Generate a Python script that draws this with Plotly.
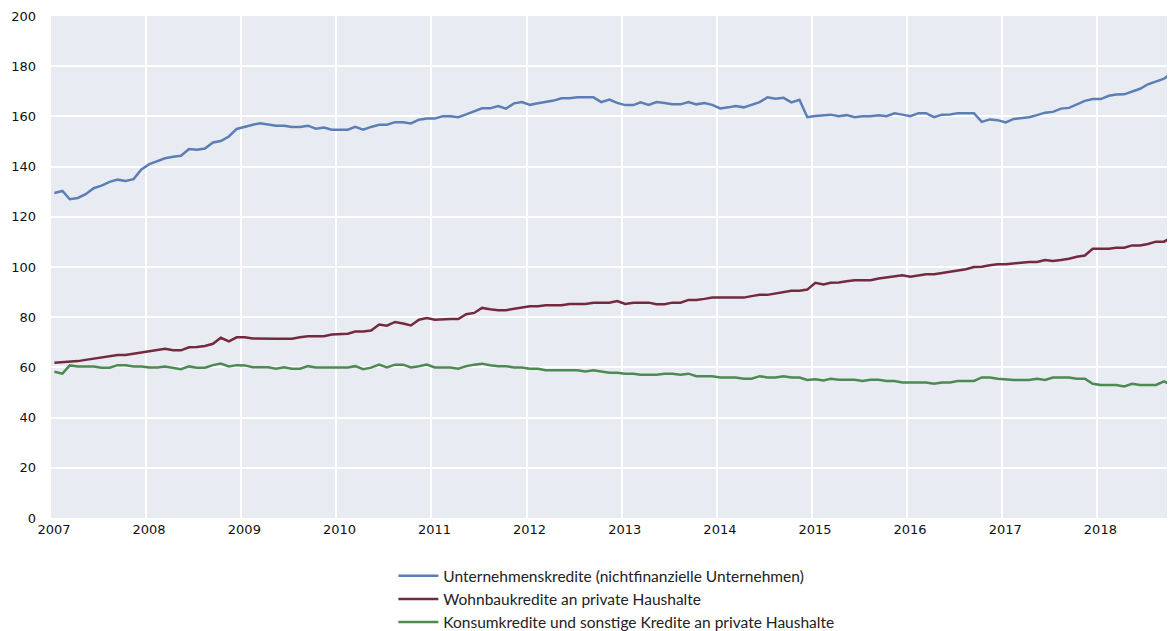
import pandas as pd
import plotly.graph_objects as go

# Monthly observations, Jan 2007 - Oct 2018
start_month = "2007-01"
n_months = 142

unternehmen = [
    129.5, 130.3, 127.0, 127.5, 129.0, 131.4, 132.4, 133.9, 134.8, 134.3, 135.0, 138.9,
    141.0, 142.3, 143.3, 143.9, 144.3, 147.0, 146.7, 147.2, 149.6, 150.2, 152.0, 155.0,
    156.0, 156.7, 157.3, 156.9, 156.3, 156.3, 155.8, 155.8, 156.3, 155.1, 155.6, 154.7,
    154.7, 154.7, 155.8, 154.7, 155.8, 156.7, 156.7, 157.7, 157.7, 157.2, 158.7, 159.2,
    159.2, 160.1, 160.1, 159.7, 160.8, 161.9, 163.2, 163.2, 164.1, 163.1, 165.2, 165.7,
    164.6, 165.2, 165.7, 166.3, 167.2, 167.2, 167.6, 167.6, 167.6, 165.7, 166.7, 165.4,
    164.5, 164.5, 165.6, 164.6, 165.7, 165.3, 164.8, 164.8, 165.7, 164.8, 165.3, 164.6,
    163.2, 163.6, 164.1, 163.6, 164.6, 165.7, 167.6, 167.0, 167.4, 165.6, 166.6, 159.7,
    160.2, 160.5, 160.7, 160.1, 160.5, 159.7, 160.1, 160.1, 160.5, 160.1, 161.2, 160.7,
    160.1, 161.3, 161.3, 159.7, 160.7, 160.8, 161.3, 161.3, 161.3, 157.8, 158.8, 158.5,
    157.6, 159.0, 159.2, 159.7, 160.5, 161.5, 161.8, 163.1, 163.4, 164.7, 166.2, 166.9,
    166.9, 168.2, 168.7, 168.8, 170.0, 171.0, 172.8, 174.0, 175.0, 177.5,
]

wohnbau = [
    61.9, 62.1, 62.4, 62.5, 63.0, 63.5, 64.0, 64.5, 64.9, 64.9, 65.4, 66.0,
    66.6, 67.0, 67.4, 66.8, 66.8, 68.0, 68.1, 68.5, 69.4, 71.8, 70.4, 72.0,
    72.0, 71.5, 71.4, 71.4, 71.4, 71.4, 71.4, 72.0, 72.4, 72.4, 72.4, 73.1,
    73.4, 73.4, 74.3, 74.3, 74.7, 77.1, 76.6, 78.1, 77.5, 76.7, 79.0, 79.7,
    79.0, 79.3, 79.3, 79.3, 81.2, 81.7, 83.7, 83.2, 82.8, 82.8, 83.3, 83.9,
    84.4, 84.4, 84.8, 84.8, 84.8, 85.3, 85.3, 85.3, 85.8, 85.8, 85.8, 86.4,
    85.3, 85.8, 85.8, 85.8, 85.2, 85.2, 85.8, 85.8, 86.9, 86.9, 87.3, 87.8,
    87.8, 87.8, 87.8, 87.8, 88.4, 88.9, 88.9, 89.4, 90.0, 90.5, 90.5, 91.0,
    93.7, 93.0, 93.7, 93.8, 94.3, 94.7, 94.7, 94.7, 95.4, 95.8, 96.3, 96.7,
    96.1, 96.7, 97.1, 97.1, 97.6, 98.1, 98.5, 99.1, 100.0, 100.1, 100.7, 101.1,
    101.1, 101.3, 101.7, 102.0, 102.0, 102.8, 102.4, 102.8, 103.3, 104.1, 104.6, 107.3,
    107.3, 107.3, 107.7, 107.7, 108.6, 108.6, 109.2, 110.1, 110.1, 111.8,
]

konsum = [
    58.3, 57.5, 60.8, 60.4, 60.4, 60.4, 59.9, 59.9, 60.9, 60.9, 60.4, 60.4,
    60.0, 60.0, 60.4, 59.9, 59.3, 60.4, 59.9, 59.9, 60.9, 61.5, 60.4, 60.9,
    60.8, 60.1, 60.1, 60.1, 59.5, 60.1, 59.5, 59.5, 60.5, 60.0, 60.0, 60.0,
    60.0, 60.0, 60.5, 59.3, 59.9, 61.1, 60.0, 61.1, 61.1, 60.0, 60.5, 61.1,
    60.0, 60.0, 60.0, 59.5, 60.5, 61.1, 61.5, 60.9, 60.5, 60.5, 60.0, 60.0,
    59.5, 59.5, 58.9, 58.9, 58.9, 58.9, 58.9, 58.4, 58.9, 58.4, 57.9, 57.9,
    57.5, 57.5, 57.1, 57.1, 57.1, 57.5, 57.5, 57.1, 57.5, 56.5, 56.5, 56.5,
    56.0, 56.0, 56.0, 55.5, 55.5, 56.5, 56.0, 56.0, 56.5, 56.0, 56.0, 55.0,
    55.3, 54.8, 55.5, 55.1, 55.1, 55.1, 54.6, 55.1, 55.1, 54.6, 54.6, 54.0,
    54.0, 54.0, 54.0, 53.5, 54.0, 54.0, 54.6, 54.6, 54.6, 56.0, 56.0, 55.5,
    55.2, 55.0, 55.0, 55.0, 55.5, 55.0, 56.0, 56.0, 56.0, 55.5, 55.5, 53.5,
    53.0, 53.0, 53.0, 52.4, 53.5, 53.0, 53.0, 53.0, 54.4, 53.0,
]

names = [
    "Unternehmenskredite (nichtfinanzielle Unternehmen)",
    "Wohnbaukredite an private Haushalte",
    "Konsumkredite und sonstige Kredite an private Haushalte",
]
colors = ["#5b7fb5", "#74293f", "#4c8a52"]

dates = pd.date_range(start_month, periods=n_months, freq="MS") + pd.Timedelta(days=13)

fig = go.Figure()
for vals, name, col in zip([unternehmen, wohnbau, konsum], names, colors):
    fig.add_trace(go.Scatter(x=dates, y=vals, mode="lines", name=name,
                             line=dict(color=col, width=2.5)))

# the page has an 8px body margin, so the figure is sized to fit the window
fig.update_layout(
    width=1167, height=623,
    margin=dict(l=43, r=0, t=8, b=113, autoexpand=False),
    plot_bgcolor="#e8ebf2",
    paper_bgcolor="white",
    showlegend=True,
    legend=dict(orientation="v", x=0.503, xanchor="center", y=-0.082, yanchor="top",
                font=dict(family="Lato", size=15.5, color="#222222"),
                tracegroupgap=0, itemwidth=40, bgcolor="rgba(0,0,0,0)"),
    font=dict(family="DejaVu Sans", size=13, color="#111111"),
)
fig.update_xaxes(
    type="date", range=["2007-01-01", "2018-10-26"],
    tick0="2007-01-01", dtick="M12", tickformat="%Y",
    showgrid=True, gridcolor="white", gridwidth=1.5,
    zeroline=False, showline=False, ticks="", automargin=False,
    ticklabelshift=3, ticklabelstandoff=2,
    tickfont=dict(family="DejaVu Sans", size=13, color="#111111"),
)
fig.update_yaxes(
    range=[0, 200], dtick=20, tick0=0,
    showgrid=True, gridcolor="white", gridwidth=1.5,
    zeroline=False, showline=False, ticks="", automargin=False,
    ticklabelstandoff=14,
    tickfont=dict(family="DejaVu Sans", size=13, color="#111111"),
)

fig.write_html("out.html")
